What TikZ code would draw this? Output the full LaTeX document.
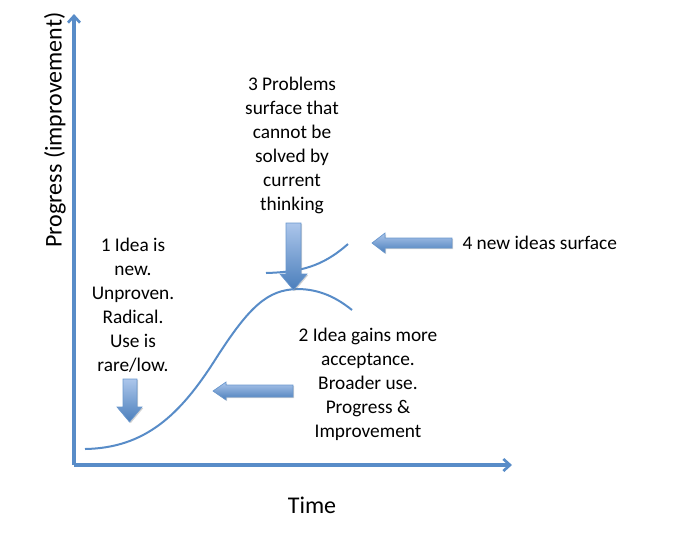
\documentclass[tikz,border=0pt]{standalone}
\usepackage{fontspec}
\setmainfont{Carlito}
\usetikzlibrary{arrows.meta,shadows}

\definecolor{axisblue}{RGB}{88,140,200}
\definecolor{arrowlight}{RGB}{172,198,235}
\definecolor{arrowdark}{RGB}{74,126,187}

\tikzset{every picture/.style={line width=0.75pt}}
\tikzset{
  axisline/.style={draw=axisblue, line width=2.3pt, -{Straight Barb[length=5pt,width=9pt,line width=2pt]}},
  curveline/.style={draw=axisblue, line width=1.5pt},
  blkarrow/.style={draw=axisblue!90, line width=0.5pt, top color=arrowlight, bottom color=arrowdark,
    drop shadow={opacity=0.35, shadow xshift=0.9pt, shadow yshift=-0.9pt}},
  note/.style={align=center, inner sep=0pt, font=\fontsize{14.5}{18}\selectfont},
  axislabel/.style={inner sep=0pt, font=\fontsize{18}{22}\selectfont}
}

\begin{document}
\begin{tikzpicture}[x=0.75pt,y=0.75pt,yscale=-1,xscale=1]
\useasboundingbox (0,0) rectangle (700,544);

% corner and axis ends
\coordinate (orig) at (74,465);
\coordinate (ytop) at (74,14);
\coordinate (xend) at (512,465);

%Axes
\draw [axisline] (orig) -- (ytop);
\draw [axisline] (orig) -- (xend);

%S-curve up to the peak, then falling off
\draw [curveline] (85,449) .. controls (145,448) and (180,415) .. (215,360) .. controls (250,305) and (268,290) .. (297,289) .. controls (320,289) and (337,298) .. (352,310);
%new curve rising above the peak
\draw [curveline] (266,273) .. controls (300,272) and (322,267) .. (348,244);

%Block arrows
\draw [blkarrow] (123,379) -- (137,379) -- (137,407) -- (142,407) -- (129.5,422) -- (117,407) -- (123,407) -- cycle;
\draw [blkarrow] (293,385) -- (293,397) -- (226,397) -- (226,400) -- (213,391) -- (226,382) -- (226,385) -- cycle;
\draw [blkarrow] (286,223) -- (301,223) -- (301,274) -- (307,274) -- (293.5,290) -- (280,274) -- (286,274) -- cycle;
\draw [blkarrow] (452,238) -- (452,248) -- (385,248) -- (385,253) -- (372,243) -- (385,233) -- (385,238) -- cycle;

% Text Node
\node [note] (idea) at (133,305) {1 Idea is\\new.\\Unproven.\\Radical.\\Use is\\rare/low.};
% Text Node
\node [note] (gains) at (368,384) {2 Idea gains more\\acceptance.\\Broader use.\\Progress \&\\Improvement};
% Text Node
\node [note] (problems) at (292,145) {3 Problems\\surface that\\cannot be\\solved by\\current\\thinking};
% Text Node
\node [note, anchor=west] (newideas) at (462,243) {4 new ideas surface};
% Text Node
\node [axislabel] (time) at (312,505) {Time};
% Text Node
\node [axislabel, rotate=90] (progress) at (55,130) {Progress (improvement)};

\end{tikzpicture}
\end{document}
